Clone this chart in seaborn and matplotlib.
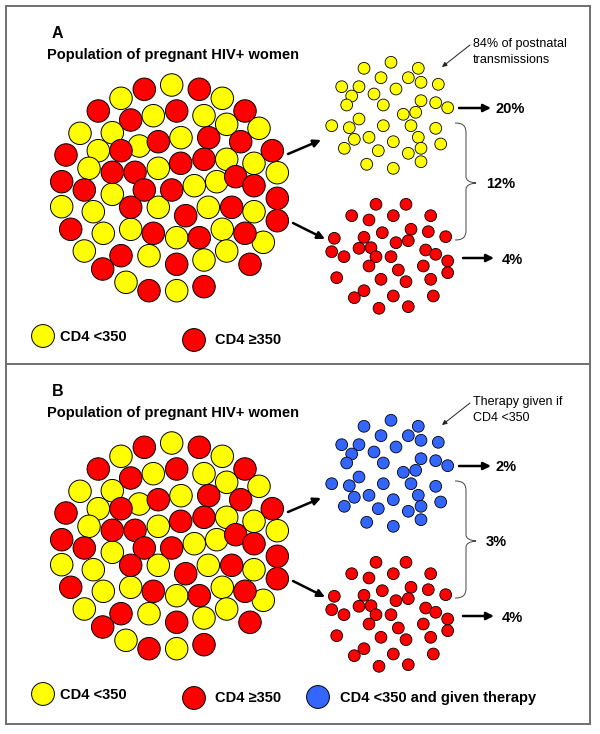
import numpy as np
import pandas as pd
import matplotlib
matplotlib.use("Agg")
import matplotlib.pyplot as plt
from matplotlib.path import Path
from matplotlib.patches import PathPatch, Rectangle
import seaborn as sns

# big population cluster (panel A pixel coords), Y = CD4 <350, R = CD4 >=350
big_x = [171.7, 121, 222.3, 153.3, 204, 80, 112.3, 226.7, 259, 139.3, 181, 98.3,
         89, 158.3, 226.7, 254, 277.3, 112.3, 194.3, 216.7, 61.7, 93.3, 158.3,
         208.3, 254, 103.3, 130.7, 176.7, 222.3, 263.3, 84.3, 149, 204, 226.7,
         126, 176.7,
         144.3, 199.3, 98.3, 130.7, 176.7, 245, 158.3, 208.7, 240.7, 66, 121,
         272.3, 112.3, 135, 180.7, 204, 235.7, 254, 61.7, 84.3, 144.3, 171.7,
         130.7, 185.7, 231.7, 277.3, 70.7, 153.3, 199.3, 245, 277.3, 121, 176.7,
         250, 102.7, 149, 204]
big_y = [85, 98.3, 98.3, 115.7, 115.7, 133.3, 132.7, 124.3, 128.3, 146, 137.7,
         150.7, 168.3, 168.3, 159.3, 163.3, 172.7, 194.3, 185.7, 181.7, 206.7,
         211.7, 207.3, 207.3, 211.7, 233.3, 229.3, 237.7, 229.3, 242.3, 251,
         255.7, 260, 251, 282.3, 290.7,
         89.3, 89.3, 111, 120, 111, 111, 141.7, 137.7, 141.7, 155, 150.7, 150.7,
         172.3, 172.3, 163.3, 159.3, 176.7, 185.7, 181.7, 190, 190, 190, 207.3,
         215.7, 207.3, 198.3, 229.3, 233.3, 237.7, 233.3, 220.7, 255.7, 264.3,
         264.3, 269, 290.7, 286.7]
big_group = ["Y"] * 36 + ["R"] * 38

# small cluster: CD4 <350 (panel A yellow / panel B blue)
top_x = [391, 364, 418.3, 381, 408.3, 421, 438.3, 341.7, 359, 396, 351.7, 374,
         346.7, 383.3, 421, 435.7, 447.7, 403.3, 415.7, 359, 331.7, 349.3,
         383.3, 411, 435.7, 354.3, 369, 418.3, 344.3, 393.3, 378.3, 440.7,
         408.3, 421, 366.7, 393.3, 421]
top_y = [62.3, 68.3, 68.3, 77.7, 77.7, 82.3, 84.3, 86.7, 86.7, 89, 96, 94, 105,
         105, 100.7, 102.7, 107.7, 114.3, 112.3, 119, 125.7, 127.7, 125.7,
         125.7, 128.3, 139.3, 137.3, 137.3, 148.3, 141.7, 150.7, 144, 153.3,
         148.3, 164.3, 168.3, 161.7]

# small cluster: CD4 >=350
bot_x = [376, 406, 351.7, 369, 393.3, 430.7, 382.3, 411, 428.3, 445.7, 334.3,
         364, 396, 408.3, 359, 371, 331.7, 344, 376, 391, 425.7, 435.7, 447.7,
         369, 398.3, 423.3, 447.7, 336.7, 381, 406, 430.7, 364, 354.3, 393.3,
         433.3, 379, 408.3]
bot_y = [204.3, 204.3, 215.7, 220, 215.7, 215.7, 232.7, 229.3, 231.7, 236.7,
         238.3, 237.3, 242.7, 240.7, 248.3, 247.7, 251.7, 256.7, 256.7, 256.7,
         250, 254.3, 261, 266, 270, 266, 272.7, 277.7, 279.3, 281.7, 279.3,
         290.7, 297.7, 296, 296, 308.3, 306.7]

panels = ["A", "B"]
top_group = ["Y", "B"]
pct_top = ["20%", "2%"]
pct_bot = ["4%", "4%"]
pct_brace = ["12%", "3%"]
notes = ["84% of postnatal\ntransmissions", "Therapy given if\nCD4 <350"]
legend_labels = ["CD4 <350", "CD4 \u2265350", "CD4 <350 and given therapy"]

palette = {"Y": "#FFFF00", "R": "#FF0000", "B": "#3366FF"}
shift = 358  # panel B sits this many pixels below panel A

fig = plt.figure(figsize=(6, 7.34), dpi=100)
ax = fig.add_axes([0, 0, 1, 1])
plt.rcParams["font.family"] = ["Liberation Sans", "DejaVu Sans"]

rows = []
for i, p in enumerate(panels):
    dy = shift * i
    for x, y, g in zip(big_x, big_y, big_group):
        rows.append((x, y + dy, g, "big"))
    for x, y in zip(top_x, top_y):
        rows.append((x, y + dy, top_group[i], "small"))
    for x, y in zip(bot_x, bot_y):
        rows.append((x, y + dy, "R", "small"))
df = pd.DataFrame(rows, columns=["x", "y", "group", "kind"])

big = df[df.kind == "big"]
small = df[df.kind == "small"]
sns.scatterplot(data=big, x="x", y="y", hue="group", palette=palette, s=262,
                edgecolor="black", linewidth=0.7, legend=False, ax=ax, zorder=3)
sns.scatterplot(data=small, x="x", y="y", hue="group", palette=palette, s=72,
                edgecolor="black", linewidth=0.6, legend=False, ax=ax, zorder=3)

# legend markers
leg = pd.DataFrame({
    "x": [43, 194, 43, 194, 318],
    "y": [336, 340, 336 + shift, 340 + shift, 697],
    "group": ["Y", "R", "Y", "R", "B"],
})
sns.scatterplot(data=leg, x="x", y="y", hue="group", palette=palette, s=270,
                edgecolor="black", linewidth=0.7, legend=False, ax=ax, zorder=3)

bold = dict(fontweight="bold", color="black", va="center")
thick = dict(arrowstyle="-|>", lw=1.8, color="black", mutation_scale=11,
             shrinkA=0, shrinkB=0)
thin = dict(arrowstyle="-|>", lw=0.7, color="#222222", mutation_scale=7,
            shrinkA=0, shrinkB=0)

for i, p in enumerate(panels):
    dy = shift * i
    ax.text(52, 33 + dy, p, fontsize=11.5, **bold)
    ax.text(47, 55 + dy, "Population of pregnant HIV+ women", fontsize=10.5, **bold)

    ax.annotate("", xy=(321, 140 + dy), xytext=(288, 154 + dy), arrowprops=thick)
    ax.annotate("", xy=(325, 239 + dy), xytext=(293, 223 + dy), arrowprops=thick)
    ax.annotate("", xy=(491, 108 + dy), xytext=(459, 108 + dy), arrowprops=thick)
    ax.annotate("", xy=(494, 258 + dy), xytext=(463, 258 + dy), arrowprops=thick)

    ax.text(496, 109 + dy, pct_top[i], fontsize=10.5, **bold)
    ax.text(502, 260 + dy, pct_bot[i], fontsize=10.5, **bold)
    ax.text(486, 184 + dy, pct_brace[i], fontsize=10.5, **bold)

    ax.text(473, 52 + dy, notes[i], fontsize=9, va="center", linespacing=1.35)
    ax.annotate("", xy=(442, 67 + dy), xytext=(470, 45 + dy), arrowprops=thin)

    # curly brace
    t, m, b = 123 + dy, 183 + dy, 240 + dy
    verts = [(455, t), (463, t), (466, t + 3), (466, t + 10),
             (466, m - 6), (466, m - 1), (476, m),
             (466, m + 1), (466, m + 6), (466, m + 10),
             (466, b - 10), (466, b - 3), (463, b), (455, b)]
    codes = [Path.MOVETO, Path.CURVE4, Path.CURVE4, Path.CURVE4,
             Path.LINETO, Path.CURVE3, Path.CURVE3,
             Path.CURVE3, Path.CURVE3, Path.LINETO,
             Path.LINETO, Path.CURVE4, Path.CURVE4, Path.CURVE4]
    ax.add_patch(PathPatch(Path(verts, codes), fill=False, lw=0.7,
                           edgecolor="#444444"))

    ax.text(60, 337 + dy, legend_labels[0], fontsize=10.5, **bold)
    ax.text(215, 340 + dy, legend_labels[1], fontsize=10.5, **bold)
ax.text(340, 698, legend_labels[2], fontsize=10.5, **bold)

# frame
ax.add_patch(Rectangle((6, 6), 584, 718, fill=False, lw=1.4, edgecolor="#707070"))
ax.plot([6, 590], [364, 364], color="#707070", lw=1.4)

ax.set_xlim(0, 600)
ax.set_ylim(734, 0)
ax.set_axis_off()

plt.savefig("out.png", dpi=100)
